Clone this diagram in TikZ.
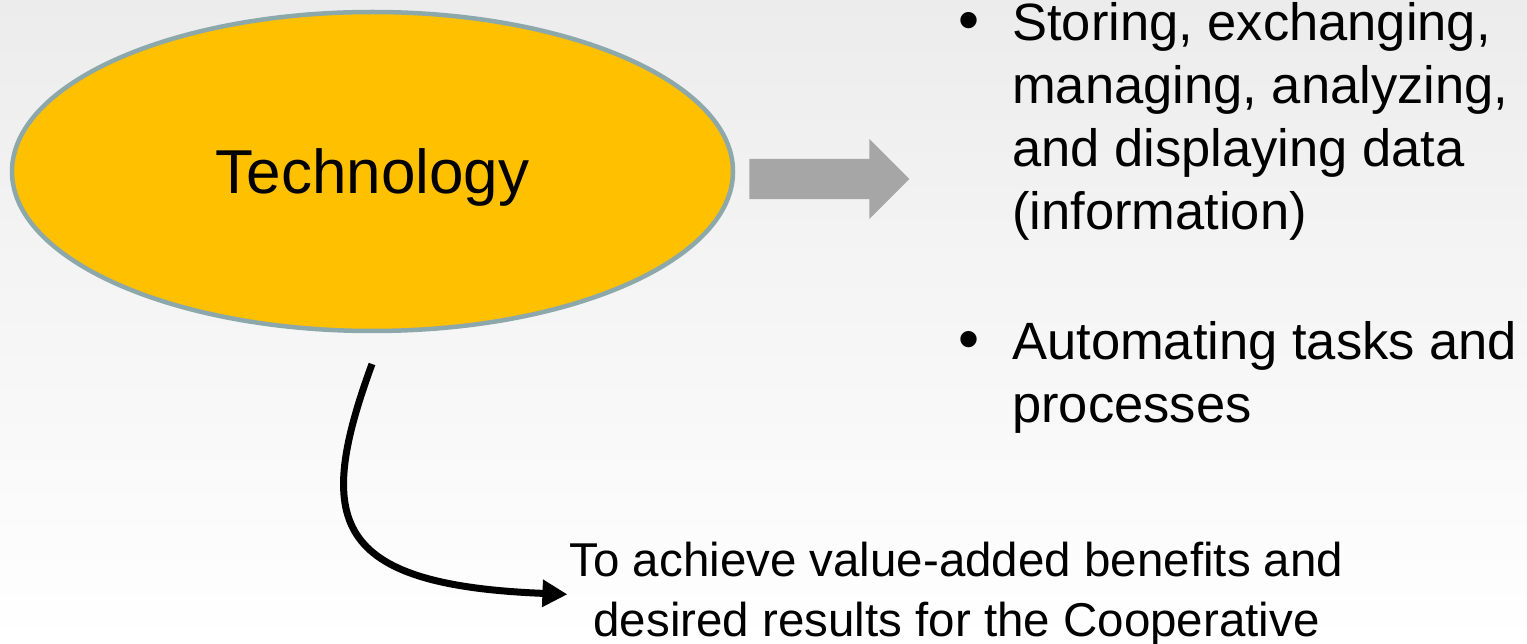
\documentclass[tikz,border=0pt]{standalone}
\usepackage{fontspec}
\setmainfont{Liberation Sans}
\usetikzlibrary{arrows.meta,shapes.geometric,shapes.arrows,positioning}
\definecolor{techgold}{HTML}{FFC000}
\definecolor{techrim}{HTML}{8DA8AA}
\definecolor{arrowgray}{HTML}{A6A6A6}
\definecolor{bgtop}{HTML}{ECECEC}

\begin{document}
\begin{tikzpicture}[x=1pt,y=-1pt,
    tech/.style={ellipse, fill=techgold, draw=techrim, line width=4.5pt,
        minimum width=721pt, minimum height=319pt, text depth=0pt,
        font=\fontsize{62}{70}\selectfont},
    flow/.style={single arrow, fill=arrowgray, inner sep=20pt,
        minimum height=160pt,
        single arrow head extend=20pt, single arrow tip angle=90},
    point/.style={anchor=north west, align=left, inner sep=0pt,
        font=\fontsize{52.5}{63}\selectfont},
    dot/.style={anchor=base, inner sep=0pt, text height=28pt, text depth=0pt,
        font=\fontsize{60}{63}\selectfont},
    goal/.style={anchor=north, align=center, inner sep=0pt,
        font=\fontsize{47.5}{60}\selectfont},
    link/.style={line width=7pt, -{Triangle[length=25pt,width=26pt]}}
]
    % background
    \fill[top color=bgtop, bottom color=white] (0,0) rectangle (1527,644);
    \useasboundingbox (0,0) rectangle (1527,644);

    \node[tech] (tech) at (372.5,171.5) {Technology};
    \node[flow, right=14pt of tech, yshift=-7.5pt] (flow) {};

    \node[dot] (dotA) at (969,41) {•};
    \node[point] (store) at (1012,2) {Storing, exchanging,\\managing, analyzing,\\and displaying data\\(information)};
    \node[dot] (dotB) at (969,360) {•};
    \node[point] (auto) at (1012,321) {Automating tasks and\\processes};

    \node[goal] (goal) at (956.5,542) {To achieve value-added benefits and\\desired results for the Cooperative};

    \coordinate (tail) at (372,364);
    \draw[link] (tail) .. controls (315,520) and (330,585) .. ([xshift=-2pt]goal.west);
\end{tikzpicture}
\end{document}
